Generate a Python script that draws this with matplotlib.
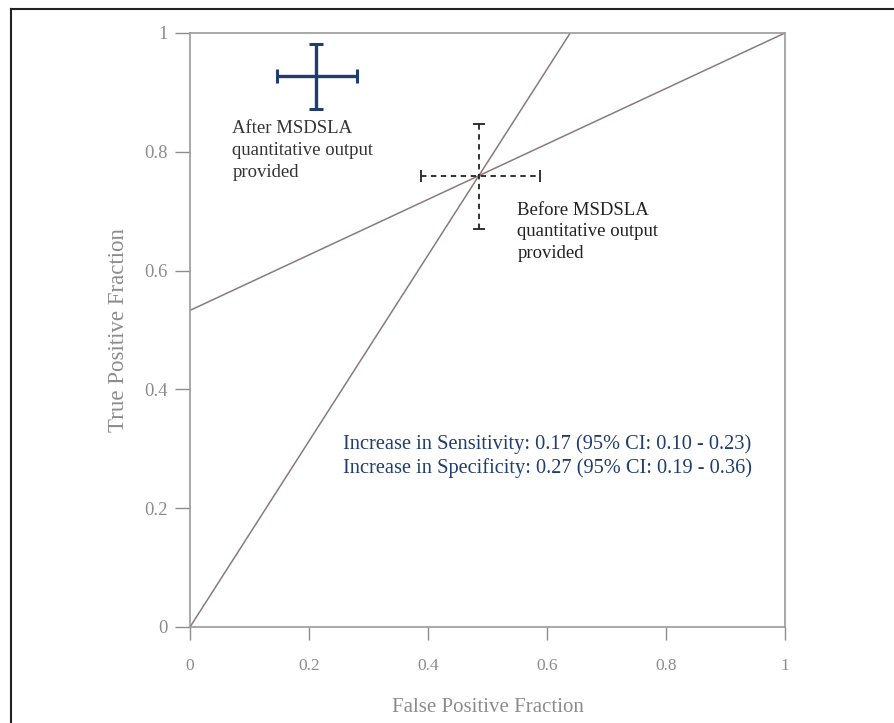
import matplotlib.pyplot as plt
from matplotlib.lines import Line2D

plt.rcParams['font.family'] = ['Liberation Serif', 'DejaVu Serif']

# operating points (false positive fraction, true positive fraction)
before_pt = (0.486, 0.760)
before_xerr = (0.388, 0.588)
before_yerr = (0.670, 0.847)

after_pt = (0.212, 0.928)
after_xerr = (0.146, 0.281)
after_yerr = (0.872, 0.981)

# ROC lines through the "before" operating point
line1_x = [0.0, 0.639]
line1_y = [0.0, 1.0]
line2_x = [0.0, 1.0]
line2_y = [0.533, 1.0]

ticks = [0, 0.2, 0.4, 0.6, 0.8, 1]
tick_labels = ['0', '0.2', '0.4', '0.6', '0.8', '1']

grey = '#8c8c8c'
navy = '#1f3d6e'
linec = '#8a7a7c'

fig = plt.figure(figsize=(8.95, 7.23), dpi=100)
ax = fig.add_axes([0.2123, 0.1328, 0.6648, 0.8216])

# outer frame (top and left edges visible)
fig.add_artist(Line2D([0.0123, 1.0], [0.9876, 0.9876], transform=fig.transFigure,
                      color='#222222', lw=1.5))
fig.add_artist(Line2D([0.0123, 0.0123], [0.0, 0.9876], transform=fig.transFigure,
                      color='#222222', lw=1.5))

ax.plot(line1_x, line1_y, color=linec, lw=1.1)
ax.plot(line2_x, line2_y, color=linec, lw=1.1)

# before: dashed cross
bx, by = before_pt
eb = ax.errorbar([bx], [by],
                 xerr=[[bx - before_xerr[0]], [before_xerr[1] - bx]],
                 yerr=[[by - before_yerr[0]], [before_yerr[1] - by]],
                 fmt='none', ecolor='#222222', elinewidth=1.3, capsize=4, capthick=1.3)
for lc in eb[2]:
    lc.set_linestyle((0, (3, 2.5)))

# after: solid navy cross
axp, ayp = after_pt
ax.errorbar([axp], [ayp],
            xerr=[[axp - after_xerr[0]], [after_xerr[1] - axp]],
            yerr=[[ayp - after_yerr[0]], [after_yerr[1] - ayp]],
            fmt='none', ecolor=navy, elinewidth=2.4, capsize=5, capthick=2.2)

ax.text(0.071, 0.853, 'After MSDSLA\nquantitative output\nprovided', fontsize=13.5,
        color='#333333', va='top', ha='left', linespacing=1.36)
ax.text(0.550, 0.716, 'Before MSDSLA\nquantitative output\nprovided', fontsize=13.5,
        color='#222222', va='top', ha='left', linespacing=1.36)
ax.text(0.257, 0.325, 'Increase in Sensitivity: 0.17 (95% CI: 0.10 - 0.23)\n'
        'Increase in Specificity: 0.27 (95% CI: 0.19 - 0.36)', fontsize=14.7,
        color=navy, va='top', ha='left', linespacing=1.27)

ax.set_xlim(0, 1)
ax.set_ylim(0, 1)
ax.set_xticks(ticks)
ax.set_xticklabels(tick_labels)
ax.set_yticks(ticks)
ax.set_yticklabels(tick_labels)
ax.tick_params(axis='x', direction='out', length=9, width=1, color=grey,
               labelcolor=grey, labelsize=12.5, pad=13.5)
ax.tick_params(axis='y', direction='out', length=11, width=1, color=grey,
               labelcolor=grey, labelsize=13.5, pad=5)
for s in ax.spines.values():
    s.set_color('#9a9a9a')
    s.set_linewidth(1.2)

ax.set_xlabel('False Positive Fraction', fontsize=15, color=grey, labelpad=17)
ax.set_ylabel('True Positive Fraction', fontsize=16.5, color=grey, labelpad=11)

fig.savefig('out.png', dpi=100)
